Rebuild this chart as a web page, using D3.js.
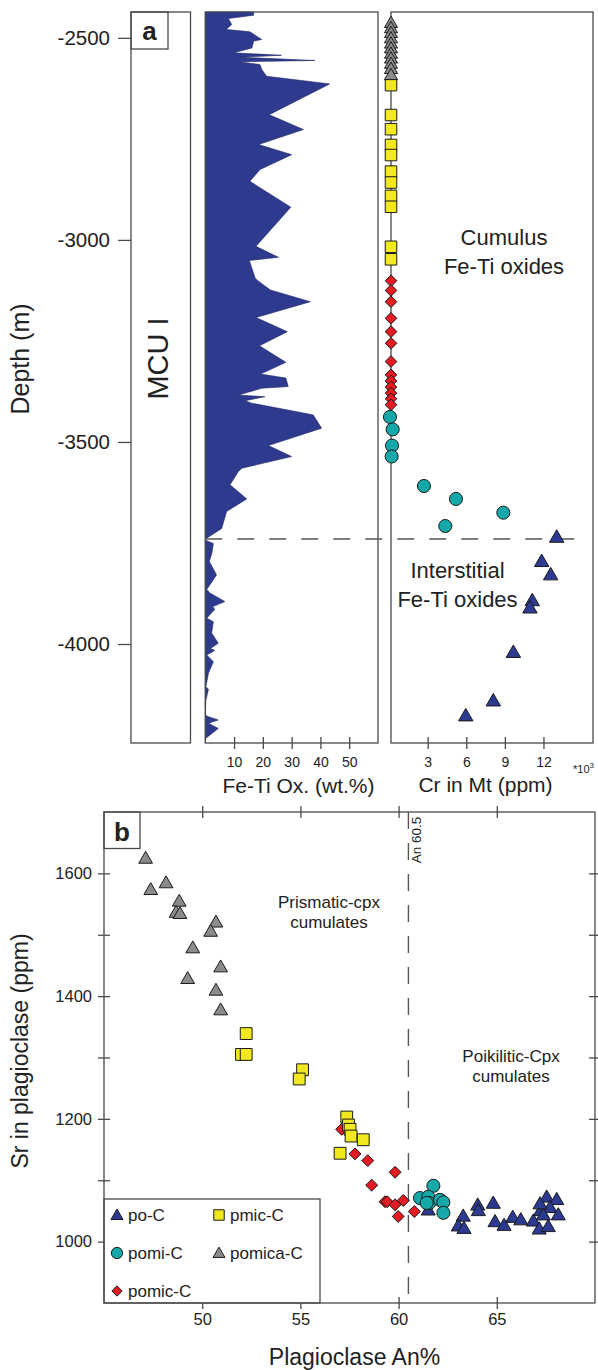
<!DOCTYPE html>
<html>
<head>
<meta charset="utf-8">
<script src="https://cdn.jsdelivr.net/npm/d3@7"></script>
<style>
  body { margin: 0; background: #fff; }
  svg { display: block; }
  text { font-family: "Liberation Sans", Arial, Helvetica, sans-serif; fill: #222; }
</style>
</head>
<body>
<svg id="fig" width="598" height="1370"></svg>
<script>
// ---------- panel a: Fe-Ti oxide profile, [depth m, wt.%] ----------
const feTiProfile = [
  [-2436,16.8],[-2444,16.8],[-2452,8.0],[-2467,9.2],[-2479,7.2],[-2485,15.5],[-2504,19.6],
  [-2508,16.8],[-2525,16.2],[-2537,9.8],[-2543,26.5],[-2548,12.1],[-2556,38.1],[-2559,11.5],
  [-2566,19.0],[-2578,19.6],[-2595,21.3],[-2614,43.2],[-2690,22.2],[-2727,34.1],[-2764,18.5],
  [-2789,30.0],[-2826,19.0],[-2855,15.5],[-2919,29.7],[-3016,17.6],[-3043,25.4],[-3051,15.3],
  [-3094,17.3],[-3099,17.9],[-3124,22.6],[-3153,36.5],[-3192,17.6],[-3227,28.5],[-3262,18.8],
  [-3303,28.0],[-3332,19.2],[-3342,28.0],[-3363,28.8],[-3367,19.6],[-3384,11.5],[-3388,20.7],
  [-3398,13.8],[-3404,16.1],[-3433,37.5],[-3466,40.4],[-3509,21.9],[-3536,30.0],[-3565,12.7],
  [-3573,11.5],[-3606,8.6],[-3641,14.4],[-3672,7.4],[-3714,5.7],[-3738,0.5],[-3743,0],
  [-3751,2.8],[-3775,2.3],[-3796,1.4],[-3829,3.9],[-3865,0.5],[-3874,1.6],[-3895,6.8],
  [-3908,2.5],[-3914,3.3],[-3936,0.5],[-3945,2.8],[-3973,2.2],[-3998,4.5],[-4011,1.8],
  [-4016,3.3],[-4027,0.5],[-4044,2.8],[-4072,1.1],[-4106,0.2],[-4112,1.1],[-4139,0.2],
  [-4176,0],[-4180,1.1],[-4188,4.5],[-4196,1.1],[-4209,4.5],[-4233,0.2],[-4245,0]
];

// Cr in magnetite, [Cr ×10³ ppm, depth m]
const crPomicaC = [[0.15,-2465],[0.15,-2478],[0.15,-2490],[0.15,-2503],[0.15,-2516],[0.15,-2528],
  [0.15,-2541],[0.15,-2553],[0.15,-2566],[0.15,-2579],[0.15,-2594]];
const crPmicC = [[0.15,-2617],[0.15,-2691],[0.15,-2726],[0.15,-2765],[0.15,-2790],[0.15,-2831],
  [0.15,-2858],[0.15,-2891],[0.15,-2918],[0.15,-3017],[0.15,-3048]];
const crPomicC = [[0.15,-3101],[0.15,-3125],[0.15,-3153],[0.15,-3194],[0.15,-3227],[0.15,-3256],
  [0.15,-3301],[0.15,-3334],[0.15,-3349],[0.15,-3364],[0.15,-3379],[0.15,-3393],[0.15,-3408]];
const crPomiC = [[0.07,-3438],[0.28,-3469],[0.23,-3509],[0.2,-3536],
  [2.71,-3609],[5.2,-3641],[8.88,-3675],[4.37,-3708]];
const crPoC = [[13.03,-3738],[11.86,-3798],[12.56,-3831],[11.13,-3895],[10.95,-3913],
  [9.66,-4023],[8.1,-4143],[5.96,-4180]];

const oxideBoundary = -3740;
const depthTicks = [-2500, -3000, -3500, -4000];
const feTiTicks = [10, 20, 30, 40, 50];
const crTicks = [3, 6, 9, 12];

// ---------- panel b: Sr vs An, [An %, Sr ppm] ----------
const srPomicaC = [[47.12,1623],[48.16,1583],[47.38,1572],[48.83,1553],[48.67,1535],[48.87,1533],
  [50.70,1519],[50.43,1504],[49.52,1477],[50.94,1446],[49.26,1427],[50.70,1408],[50.94,1376]];
const srPoC = [[61.51,1050],[63.29,1040],[63.04,1024],[63.33,1020],[64.03,1058],[64.06,1049],
  [64.82,1061],[64.91,1031],[65.37,1025],[65.81,1038],[66.22,1034],[66.86,1032],[67.16,1019],
  [67.62,1023],[67.23,1049],[67.54,1071],[68.05,1067],[67.71,1054],[67.37,1042],[68.13,1042],[67.2,1060]];
const srPomicC = [[57.1,1183],[57.78,1143],[58.43,1132],[59.82,1113],[58.63,1092],[59.31,1065],
  [59.42,1065],[59.82,1060],[60.24,1067],[59.98,1041],[60.8,1049]];
const srPomiC = [[61.77,1091],[61.09,1071],[61.51,1073],[61.56,1063],[62.11,1068],[62.28,1064],
  [62.28,1047],[61.43,1063]];
const srPmicC = [[52.24,1339],[52.0,1305],[52.24,1305],[55.11,1280],[54.94,1265],[57.36,1203],
  [57.45,1190],[57.53,1183],[57.58,1172],[58.2,1166],[57.02,1144]];

const anThreshold = 60.5;
const anTicks = [50, 55, 60, 65];
const srTicks = [1000, 1100, 1200, 1300, 1400, 1500, 1600];
const srLabelled = [1000, 1200, 1400, 1600];
const legendOrder = [["po-C", "pmic-C"], ["pomi-C", "pomica-C"], ["pomic-C"]];

// ---------- marker styles ----------
const diamond = {
  draw(ctx, size) {
    const r = Math.sqrt(size / 2);
    ctx.moveTo(0, -r); ctx.lineTo(r, 0); ctx.lineTo(0, r); ctx.lineTo(-r, 0); ctx.closePath();
  }
};
const style = {
  "po-C":     { type: d3.symbolTriangle, fill: "#2c3a91", size: 82 },
  "pmic-C":   { type: d3.symbolSquare,   fill: "#f2e81e", size: 140 },
  "pomi-C":   { type: d3.symbolCircle,   fill: "#16a8a8", size: 128 },
  "pomica-C": { type: d3.symbolTriangle, fill: "#8b8b8b", size: 78 },
  "pomic-C":  { type: diamond,           fill: "#e41b22", size: 68 }
};
const frameColor = "#4a4a4a";

const svg = d3.select("#fig");

function frame(g, x0, y0, x1, y1) {
  g.append("rect").attr("x", x0).attr("y", y0).attr("width", x1 - x0).attr("height", y1 - y0)
    .attr("fill", "none").attr("stroke", frameColor).attr("stroke-width", 1.3);
}
function markers(g, data, key, xs, ys, scale = 1) {
  const s = style[key];
  g.selectAll(null).data(data).join("path")
    .attr("d", d3.symbol().type(s.type).size(s.size * scale))
    .attr("transform", d => `translate(${xs(d)},${ys(d)})`)
    .attr("fill", s.fill).attr("stroke", "#1b1b1b").attr("stroke-width", 1);
}
function crossTicks(axisG, half) {
  axisG.selectAll(".tick line").attr("y1", -half).attr("y2", half);
}

// ================= PANEL A =================
const yDepth = d3.scaleLinear().domain([-2436, -4245]).range([12, 743]);
const xFe = d3.scaleLinear().domain([0, 60]).range([205.3, 378]);
const xCr = d3.scaleLinear().domain([0.15, 15.85]).range([391, 593]);

const pa = svg.append("g");

// lithology column with unit label
frame(pa, 131, 12, 190.5, 743);
frame(pa, 131, 12, 168, 49);
pa.append("text").attr("x", 149.5).attr("y", 40).attr("text-anchor", "middle")
  .attr("font-size", 26).attr("font-weight", "bold").text("a");
pa.append("text").attr("transform", "translate(168,358.5) rotate(-90)")
  .attr("text-anchor", "middle").attr("font-size", 29).text("MCU I");

// depth axis
const depthAxis = pa.append("g").attr("transform", "translate(131,0)")
  .call(d3.axisLeft(yDepth).tickValues(depthTicks).tickSize(13).tickPadding(8).tickFormat(d => String(d)));
depthAxis.select(".domain").remove();
depthAxis.selectAll(".tick line").attr("stroke", frameColor).attr("stroke-width", 1.3);
depthAxis.selectAll("text").attr("font-size", 20.5).attr("fill", "#222")
  .attr("font-family", '"Liberation Sans", Arial, sans-serif');
pa.append("text").attr("transform", "translate(29,359) rotate(-90)")
  .attr("text-anchor", "middle").attr("font-size", 25).text("Depth (m)");

// Fe-Ti oxide profile
const area = d3.area().y(d => yDepth(d[0])).x0(xFe(0)).x1(d => xFe(d[1]));
pa.append("path").datum(feTiProfile).attr("d", area)
  .attr("fill", "#2e3a8e").attr("stroke", "#1d2563").attr("stroke-width", 0.6);
frame(pa, 205.3, 12, 378, 743);
const feAxis = pa.append("g").attr("transform", "translate(0,743)")
  .call(d3.axisBottom(xFe).tickValues(feTiTicks).tickSize(6).tickPadding(8));
feAxis.select(".domain").remove();
crossTicks(feAxis, 6);
feAxis.selectAll(".tick line").attr("stroke", frameColor).attr("stroke-width", 1.3);
feAxis.selectAll("text").attr("font-size", 14).attr("fill", "#333")
  .attr("font-family", '"Liberation Sans", Arial, sans-serif');
pa.append("text").attr("x", 298.5).attr("y", 793).attr("text-anchor", "middle")
  .attr("font-size", 21).text("Fe-Ti Ox. (wt.%)");

// Cr in magnetite
frame(pa, 391, 12, 593, 743);
const crAxis = pa.append("g").attr("transform", "translate(0,743)")
  .call(d3.axisBottom(xCr).tickValues(crTicks).tickSize(6).tickPadding(8));
crAxis.select(".domain").remove();
crossTicks(crAxis, 6);
crAxis.selectAll(".tick line").attr("stroke", frameColor).attr("stroke-width", 1.3);
crAxis.selectAll("text").attr("font-size", 14).attr("fill", "#333")
  .attr("font-family", '"Liberation Sans", Arial, sans-serif');
pa.append("text").attr("x", 485.5).attr("y", 792).attr("text-anchor", "middle")
  .attr("font-size", 21).text("Cr in Mt (ppm)");
const mult = pa.append("text").attr("x", 573).attr("y", 773).attr("font-size", 11).attr("fill", "#333");
mult.append("tspan").text("*10");
mult.append("tspan").attr("dy", -5).attr("font-size", 8).text("3");

// cumulus / interstitial boundary
pa.append("line").attr("x1", xFe(0)).attr("x2", 589)
  .attr("y1", yDepth(oxideBoundary)).attr("y2", yDepth(oxideBoundary))
  .attr("stroke", "#555").attr("stroke-width", 1.4).attr("stroke-dasharray", "17,15");

const cx = d => xCr(d[0]), cy = d => yDepth(d[1]);
markers(pa, crPmicC, "pmic-C", cx, cy, 0.95);
markers(pa, crPomicaC, "pomica-C", cx, cy, 0.95);
markers(pa, crPomicC, "pomic-C", cx, cy, 1.0);
markers(pa, crPomiC, "pomi-C", cx, cy, 1.05);
markers(pa, crPoC, "po-C", cx, cy, 1.1);

pa.append("text").attr("x", 504).attr("y", 245).attr("text-anchor", "middle").attr("font-size", 22).text("Cumulus");
pa.append("text").attr("x", 504).attr("y", 274).attr("text-anchor", "middle").attr("font-size", 22).text("Fe-Ti oxides");
pa.append("text").attr("x", 457.5).attr("y", 578).attr("text-anchor", "middle").attr("font-size", 22).text("Interstitial");
pa.append("text").attr("x", 457.5).attr("y", 607).attr("text-anchor", "middle").attr("font-size", 22).text("Fe-Ti oxides");

// ================= PANEL B =================
const xAn = d3.scaleLinear().domain([45, 70]).range([104, 595]);
const ySr = d3.scaleLinear().domain([900, 1700]).range([1303, 812]);
const pb = svg.append("g");

function styleAxis(g, fs) {
  g.select(".domain").remove();
  g.selectAll(".tick line").attr("stroke", frameColor).attr("stroke-width", 1.3);
  g.selectAll("text").attr("font-size", fs).attr("fill", "#333")
    .attr("font-family", '"Liberation Sans", Arial, sans-serif');
}
const bAxis = pb.append("g").attr("transform", "translate(0,1303)")
  .call(d3.axisBottom(xAn).tickValues(anTicks).tickSize(6).tickPadding(4));
styleAxis(bAxis, 16.5); crossTicks(bAxis, 6);
const tAxis = pb.append("g").attr("transform", "translate(0,812)")
  .call(d3.axisTop(xAn).tickValues(anTicks).tickSize(6).tickFormat(""));
styleAxis(tAxis, 1); crossTicks(tAxis, 6);
const lAxis = pb.append("g").attr("transform", "translate(104,0)")
  .call(d3.axisLeft(ySr).tickValues(srTicks).tickSize(6).tickPadding(6)
    .tickFormat(d => srLabelled.includes(d) ? String(d) : ""));
styleAxis(lAxis, 16.5);
lAxis.selectAll(".tick line").attr("x1", 6).attr("x2", -6);
const rAxis = pb.append("g").attr("transform", "translate(595,0)")
  .call(d3.axisRight(ySr).tickValues(srTicks).tickSize(6).tickFormat(""));
styleAxis(rAxis, 1);
rAxis.selectAll(".tick line").attr("x1", -6).attr("x2", 6);

// An 60.5 threshold
pb.append("line").attr("x1", xAn(anThreshold)).attr("x2", xAn(anThreshold))
  .attr("y1", 812).attr("y2", 1303)
  .attr("stroke", "#555").attr("stroke-width", 1.4).attr("stroke-dasharray", "17,14");
pb.append("text").attr("transform", `translate(${xAn(anThreshold) + 13},840) rotate(-90)`)
  .attr("text-anchor", "middle").attr("font-size", 13.5).text("An 60.5");

pb.append("text").attr("x", 329).attr("y", 908).attr("text-anchor", "middle").attr("font-size", 17).text("Prismatic-cpx");
pb.append("text").attr("x", 329).attr("y", 928).attr("text-anchor", "middle").attr("font-size", 17).text("cumulates");
pb.append("text").attr("x", 511).attr("y", 1062).attr("text-anchor", "middle").attr("font-size", 17).text("Poikilitic-Cpx");
pb.append("text").attr("x", 511).attr("y", 1082).attr("text-anchor", "middle").attr("font-size", 17).text("cumulates");

const sx = d => xAn(d[0]), sy = d => ySr(d[1]);
markers(pb, srPomicaC, "pomica-C", sx, sy, 1.05);
markers(pb, srPoC, "po-C", sx, sy, 1.05);
markers(pb, srPomicC, "pomic-C", sx, sy, 1.05);
markers(pb, srPomiC, "pomi-C", sx, sy, 1.05);
markers(pb, srPmicC, "pmic-C", sx, sy, 1.0);

// legend
const lg = pb.append("g");
lg.append("rect").attr("x", 104).attr("y", 1199).attr("width", 216).attr("height", 104)
  .attr("fill", "#fff").attr("stroke", frameColor).attr("stroke-width", 1.3);
legendOrder.forEach((row, r) => {
  row.forEach((key, c) => {
    const x = 117 + c * 102, y = 1215 + r * 38;
    const s = style[key];
    lg.append("path").attr("d", d3.symbol().type(s.type).size(s.size * 0.78))
      .attr("transform", `translate(${x},${y + (s.type === d3.symbolTriangle ? 1 : 0)})`)
      .attr("fill", s.fill).attr("stroke", "#1b1b1b").attr("stroke-width", 1);
    lg.append("text").attr("x", x + 11).attr("y", y + 6).attr("font-size", 17).text(key);
  });
});

frame(pb, 104, 812, 595, 1303);
frame(pb, 104, 812, 140, 848.5);
pb.append("text").attr("x", 122).attr("y", 841).attr("text-anchor", "middle")
  .attr("font-size", 26).attr("font-weight", "bold").text("b");

pb.append("text").attr("x", 354.5).attr("y", 1365).attr("text-anchor", "middle")
  .attr("font-size", 23).text("Plagioclase An%");
pb.append("text").attr("transform", "translate(28,1051) rotate(-90)")
  .attr("text-anchor", "middle").attr("font-size", 23).text("Sr in plagioclase (ppm)");
</script>
</body>
</html>
